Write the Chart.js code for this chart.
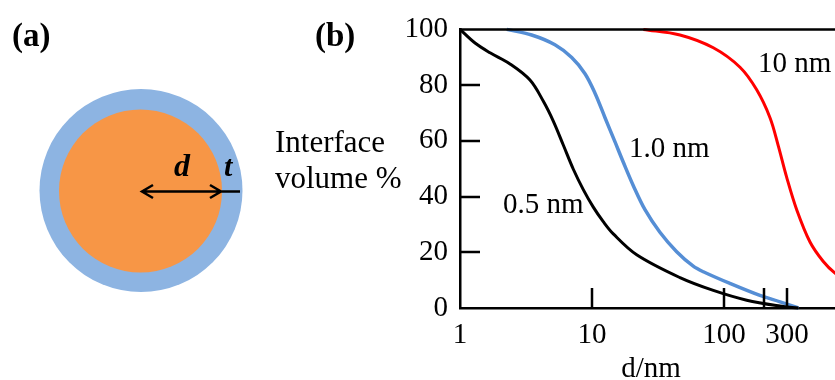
<!DOCTYPE html>
<html>
<head>
<meta charset="utf-8">
<script src="https://cdn.jsdelivr.net/npm/chart.js@4.4.1/dist/chart.umd.min.js"></script>
<style>
  html, body { margin: 0; padding: 0; background: #fff; overflow: hidden; }
  #wrap { width: 900px; height: 380px; }
</style>
</head>
<body>
<div id="wrap"><canvas id="chart" width="900" height="380"></canvas></div>
<script>
// particle diameter d (nm) vs interface volume % for three shell thicknesses
const d05 = [1, 1.30, 1.69, 2.39, 3.39, 4.28, 5.09, 6.06, 7.22, 8.59, 10.23, 12.17, 14.5, 21.8, 46.4, 83.0, 148.6, 265.6, 365.6]
const v05 = [100, 95.1, 91.6, 87.6, 81.8, 74.2, 67.1, 58.5, 49.8, 42.5, 36.2, 31.0, 26.6, 19.1, 10.9, 6.3, 2.8, 0.7, 0]

const d10 = [2.26, 3.49, 5.24, 7.02, 8.85, 10.54, 12.55, 14.94, 17.27, 20.56, 25.2, 32.7, 43.8, 58.5, 69.7, 111, 187, 266, 366]
const v10 = [100, 98.0, 94.5, 89.9, 84.1, 77.1, 68.3, 59.6, 52.3, 43.9, 35.3, 27.2, 20.2, 15.0, 13.0, 8.8, 4.5, 2.2, 0]

const d100 = [24.5, 46.4, 83.0, 132.2, 176.9, 223.1, 257.8, 298.5, 355.4, 448.3, 565.3, 693.3, 982]
const v100 = [100, 98.0, 93.4, 86.4, 78.3, 68.3, 58.2, 46.9, 35.3, 23.7, 16.7, 12.5, 7.3]

const xLabels = [1, 10, 100, 300]
const xTickMarks = [10, 100, 200, 300]
const yLabels = [0, 20, 40, 60, 80, 100]
const yTickMarks = [20, 40, 60, 80]

const serif = '"Liberation Serif", "Times New Roman", serif'

function pts(xs, ys) {
    return xs.map((x, i) => ({ x: x, y: ys[i] }))
}

// axis ticks point inwards, plus the frame line on top, curve labels
// and the core/shell sketch on the left
const extras = {
    id: 'extras',
    afterDraw(chart) {
        const c = chart.ctx
        const area = chart.chartArea
        const xs = chart.scales.x
        const ys = chart.scales.y
        c.save()
        c.strokeStyle = '#000'
        c.lineWidth = 2.5
        c.beginPath()
        c.moveTo(area.left, area.top)
        c.lineTo(area.right, area.top)
        yTickMarks.forEach(v => {
            const py = Math.round(ys.getPixelForValue(v))
            c.moveTo(area.left, py)
            c.lineTo(area.left + 20, py)
        })
        xTickMarks.forEach(v => {
            const px = Math.round(xs.getPixelForValue(v))
            c.moveTo(px, area.bottom)
            c.lineTo(px, area.bottom - 20)
        })
        c.stroke()

        c.fillStyle = '#000'
        c.textBaseline = 'alphabetic'
        c.textAlign = 'left'
        c.font = '29px ' + serif
        c.fillText('0.5 nm', 503, 213)
        c.fillText('1.0 nm', 629, 157)
        c.fillText('10 nm', 758, 72)
        c.textAlign = 'center'
        c.fillText('d/nm', 651, 377)
        c.textAlign = 'left'
        c.font = '31px ' + serif
        c.fillText('Interface', 275, 152)
        c.fillText('volume %', 275, 188)

        c.font = 'bold 33px ' + serif
        c.fillText('(a)', 12, 46)
        c.fillText('(b)', 315, 46)

        // core (orange) inside the interface shell (blue)
        c.fillStyle = '#8DB4E2'
        c.beginPath()
        c.arc(141, 190.5, 101.5, 0, Math.PI * 2)
        c.fill()
        c.fillStyle = '#F79646'
        c.beginPath()
        c.arc(140.5, 191, 81.5, 0, Math.PI * 2)
        c.fill()

        c.strokeStyle = '#000'
        c.lineWidth = 2.5
        c.beginPath()
        c.moveTo(142, 191.5)
        c.lineTo(240, 191.5)
        c.moveTo(153, 185)
        c.lineTo(142, 191.5)
        c.lineTo(153, 198)
        c.moveTo(210, 185)
        c.lineTo(221, 191.5)
        c.lineTo(210, 198)
        c.stroke()

        c.fillStyle = '#000'
        c.font = 'italic bold 32px ' + serif
        c.fillText('d', 174, 176)
        c.font = 'italic bold 30px ' + serif
        c.fillText('t', 224, 176)
        c.restore()
    }
}

new Chart(document.getElementById('chart'), {
    type: 'line',
    data: {
        datasets: [
            { label: '0.5 nm', data: pts(d05, v05), borderColor: '#000000', borderWidth: 3 },
            { label: '1.0 nm', data: pts(d10, v10), borderColor: '#558ED5', borderWidth: 3.5 },
            { label: '10 nm', data: pts(d100, v100), borderColor: '#FF0000', borderWidth: 3 }
        ]
    },
    options: {
        responsive: false,
        animation: false,
        layout: { padding: { top: 21, left: 0, right: 44, bottom: 0 } },
        elements: {
            point: { radius: 0 },
            line: { tension: 0.35, fill: false }
        },
        datasets: { line: { clip: false } },
        plugins: {
            legend: { display: false },
            tooltip: { enabled: false }
        },
        scales: {
            x: {
                type: 'logarithmic',
                min: 1,
                max: 1000,
                afterFit: s => { s.height = 72 },
                afterBuildTicks: s => { s.ticks = xLabels.map(v => ({ value: v })) },
                grid: { display: false, drawTicks: false },
                border: { display: true, color: '#000', width: 2.5 },
                ticks: {
                    color: '#000',
                    font: { family: serif, size: 29 },
                    padding: 10,
                    maxRotation: 0,
                    autoSkip: false,
                    callback: v => String(v)
                }
            },
            y: {
                min: 0,
                max: 100,
                afterFit: s => { s.width = 460 },
                afterBuildTicks: s => { s.ticks = yLabels.map(v => ({ value: v })) },
                grid: { display: false, drawTicks: false },
                border: { display: true, color: '#000', width: 2.5 },
                ticks: {
                    color: '#000',
                    font: { family: serif, size: 29 },
                    padding: 12
                }
            }
        }
    },
    plugins: [extras]
})
</script>
</body>
</html>
